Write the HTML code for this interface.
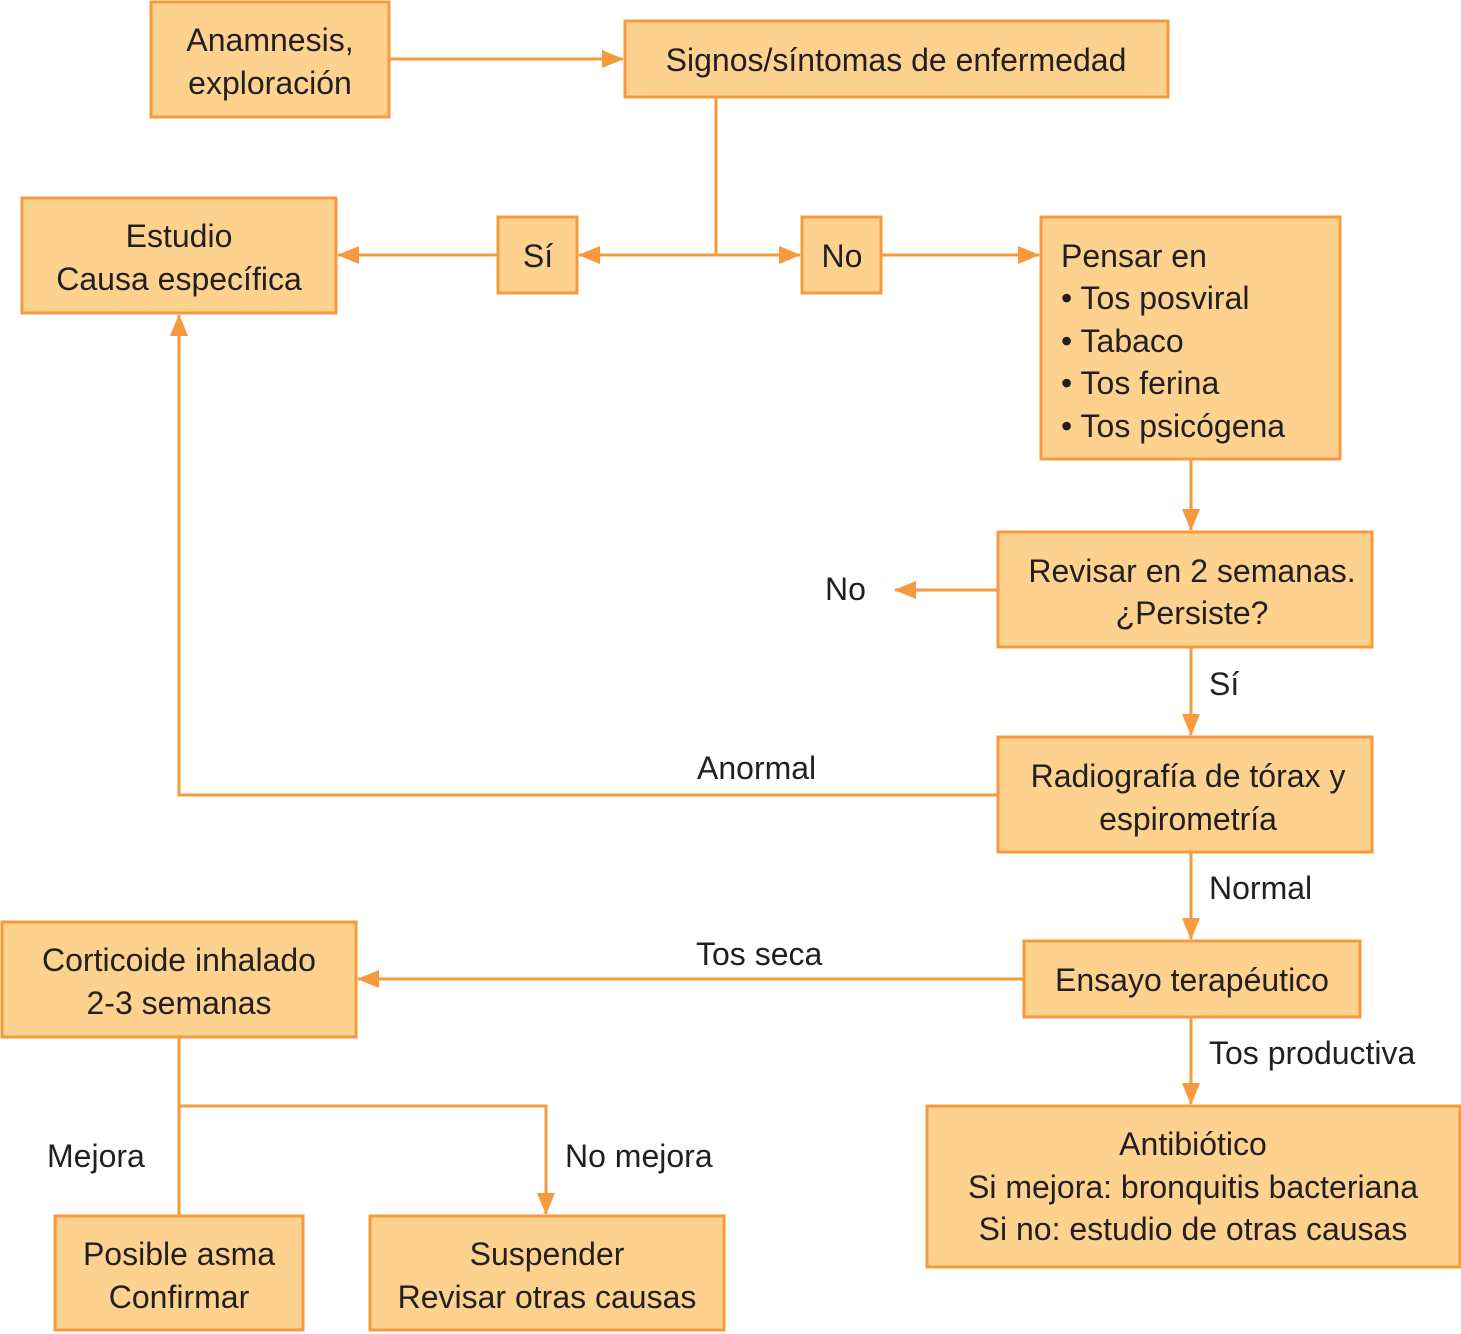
<!DOCTYPE html>
<html><head><meta charset="utf-8"><style>body{margin:0;background:#fff}svg{display:block}text{font-family:"Liberation Sans",sans-serif;font-size:32px;fill:#231f20}</style></head><body>
<svg width="1461" height="1334" viewBox="0 0 1461 1334">
<defs><marker id="a" markerWidth="22" markerHeight="18" refX="21" refY="9" orient="auto" markerUnits="userSpaceOnUse"><path d="M0,0 L22,9 L0,18 Z" fill="#F7993D"/></marker></defs>
<g fill="#FDD28E" stroke="#F7993D" stroke-width="3">
<rect x="151" y="2" width="238" height="115"/>
<rect x="625" y="21" width="543" height="76"/>
<rect x="22" y="198" width="314" height="115"/>
<rect x="498" y="217" width="79" height="76"/>
<rect x="802" y="217" width="79" height="76"/>
<rect x="1041" y="217" width="299" height="242"/>
<rect x="998" y="532" width="374" height="115"/>
<rect x="998" y="737" width="374" height="115"/>
<rect x="1024" y="941" width="336" height="76"/>
<rect x="2" y="922" width="354" height="115"/>
<rect x="927" y="1106" width="533" height="161"/>
<rect x="55" y="1216" width="248" height="114"/>
<rect x="370" y="1216" width="354" height="114"/>
</g>
<g fill="none" stroke="#F7993D" stroke-width="3">
<path d="M389,59 H623" marker-end="url(#a)"/>
<path d="M716,97 V255"/>
<path d="M716,255 H579" marker-end="url(#a)"/>
<path d="M716,255 H800" marker-end="url(#a)"/>
<path d="M498,255 H338" marker-end="url(#a)"/>
<path d="M881,255 H1039" marker-end="url(#a)"/>
<path d="M1191,459 V530" marker-end="url(#a)"/>
<path d="M998,590 H895" marker-end="url(#a)"/>
<path d="M1191,647 V735" marker-end="url(#a)"/>
<path d="M998,795 H179 V315" marker-end="url(#a)"/>
<path d="M1191,852 V939" marker-end="url(#a)"/>
<path d="M1024,979 H358" marker-end="url(#a)"/>
<path d="M1191,1017 V1104" marker-end="url(#a)"/>
<path d="M179,1037 V1216"/>
<path d="M179,1106 H546 V1214" marker-end="url(#a)"/>
</g>
<g text-anchor="middle">
<text x="270" y="51">Anamnesis,</text><text x="270" y="94">exploración</text>
<text x="896" y="71">Signos/síntomas de enfermedad</text>
<text x="179" y="247">Estudio</text><text x="179" y="290">Causa específica</text>
<text x="538" y="267">Sí</text>
<text x="842" y="267">No</text>
<text x="1192" y="582">Revisar en 2 semanas.</text><text x="1192" y="624">¿Persiste?</text>
<text x="1188" y="787">Radiografía de tórax y</text><text x="1188" y="830">espirometría</text>
<text x="1192" y="991">Ensayo terapéutico</text>
<text x="179" y="971">Corticoide inhalado</text><text x="179" y="1014">2-3 semanas</text>
<text x="1193" y="1155">Antibiótico</text><text x="1193" y="1198">Si mejora: bronquitis bacteriana</text><text x="1193" y="1240">Si no: estudio de otras causas</text>
<text x="179" y="1265">Posible asma</text><text x="179" y="1308">Confirmar</text>
<text x="547" y="1265">Suspender</text><text x="547" y="1308">Revisar otras causas</text>
</g>
<text x="1061" y="267">Pensar en</text>
<text x="1061" y="309">• Tos posviral</text>
<text x="1061" y="352">• Tabaco</text>
<text x="1061" y="394">• Tos ferina</text>
<text x="1061" y="437">• Tos psicógena</text>
<text x="825" y="600">No</text>
<text x="1209" y="695">Sí</text>
<text x="697" y="779">Anormal</text>
<text x="1209" y="899">Normal</text>
<text x="696" y="965">Tos seca</text>
<text x="1209" y="1064">Tos productiva</text>
<text x="47" y="1167">Mejora</text>
<text x="565" y="1167">No mejora</text>
</svg>
</body></html>
